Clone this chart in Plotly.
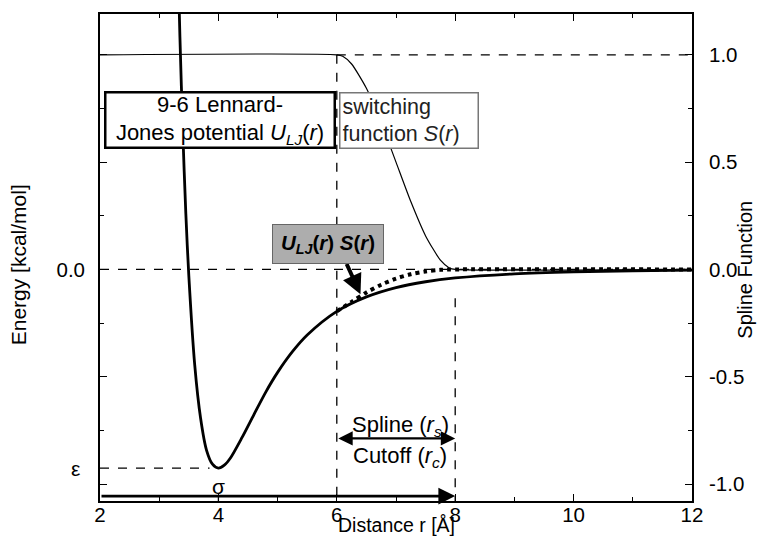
import plotly.graph_objects as go

# ---- data ----
# 9-6 Lennard-Jones potential (energy in units of epsilon, left axis)
r_lj = [3.32, 3.35, 3.40, 3.45, 3.50, 3.60, 3.70, 3.80, 3.90, 4.00, 4.10, 4.20, 4.40,
        4.60, 4.80, 5.00, 5.25, 5.50, 6.00, 6.50, 7.00, 7.50, 8.00, 9.00, 10.0, 11.0, 12.0]
u_lj = [1.52, 1.17, 0.68, 0.28, -0.03, -0.48, -0.75, -0.91, -0.98, -1.00, -0.985, -0.95, -0.845,
        -0.73, -0.617, -0.518, -0.414, -0.33, -0.211, -0.138, -0.091, -0.062, -0.043, -0.022, -0.012, -0.007, -0.004]
# switching function S(r) (right axis)
r_sw = [2.0, 6.0, 6.1, 6.25, 6.5, 6.75, 7.0, 7.25, 7.5, 7.75, 7.9, 8.0, 12.0]
s_sw = [1.0, 1.0, 0.993, 0.957, 0.844, 0.684, 0.5, 0.316, 0.156, 0.043, 0.007, 0.0, 0.0]
# product U_LJ(r) * S(r) (left axis)
r_us = [6.0, 6.25, 6.5, 6.75, 7.0, 7.25, 7.5, 7.75, 8.0, 12.0]
u_us = [-0.211, -0.163, -0.116, -0.077, -0.046, -0.024, -0.010, -0.002, 0.0, 0.0]

# characteristic distances / energies
SIGMA = 4.0
R_S = 6.0
R_C = 8.0
EPS = -1.0

x_ticks = [2, 4, 6, 8, 10, 12]
y2_ticks = [-1.0, -0.5, 0.0, 0.5, 1.0]
y2_ticktext = ["-1.0", "-0.5", "0.0", "0.5", "1.0"]
y_ticks = [0.0]
y_ticktext = ["0.0"]

FONT = "Liberation Sans, Arial, sans-serif"
BLACK = "black"
TICK_SIZE = 20.5
TITLE_SIZE = 20
TEXT_SIZE = 22

Y_TOP, Y_BOT = 1.285, -1.165     # energy axis range
Y2_TOP, Y2_BOT = 1.19, -1.079    # spline axis range

fig = go.Figure()

fig.add_trace(go.Scatter(x=r_sw, y=s_sw, yaxis="y2", mode="lines",
                         line=dict(color=BLACK, width=1.2, shape="spline", smoothing=0.6),
                         showlegend=False, hoverinfo="skip"))
fig.add_trace(go.Scatter(x=r_lj, y=u_lj, mode="lines",
                         line=dict(color=BLACK, width=2.8, shape="spline", smoothing=0.8),
                         showlegend=False, hoverinfo="skip"))
fig.add_trace(go.Scatter(x=r_us, y=u_us, mode="lines",
                         line=dict(color=BLACK, width=4, dash="dot", shape="spline", smoothing=0.8),
                         showlegend=False, hoverinfo="skip"))

dash = dict(color=BLACK, width=1.3, dash="dash")
Y_CUT = -1.14
Y_SPL = -0.85
shapes = [
    dict(type="line", xref="x", yref="y", x0=2, x1=12, y0=0, y1=0, line=dash),
    dict(type="line", xref="x", yref="y2", x0=R_S, x1=12, y0=1, y1=1, line=dash),
    dict(type="line", xref="x", yref="y2", x0=R_S, x1=R_S, y0=1, y1=Y2_BOT, line=dash),
    dict(type="line", xref="x", yref="y", x0=R_C, x1=R_C, y0=-0.145, y1=Y_BOT, line=dash),
    dict(type="line", xref="x", yref="y", x0=2, x1=SIGMA - 0.15, y0=EPS, y1=EPS, line=dash),
    dict(type="line", xref="x", yref="y", x0=SIGMA, x1=SIGMA, y0=Y_CUT, y1=Y_BOT, line=dash),
]

ann = [
    # cutoff arrow
    dict(x=R_C, y=Y_CUT, ax=2, ay=Y_CUT, xref="x", yref="y", axref="x", ayref="y",
         text="", showarrow=True, arrowhead=2, arrowsize=1.2, arrowwidth=2.8, arrowcolor=BLACK),
    # spline arrow (double headed)
    dict(x=R_C, y=Y_SPL, ax=R_S, ay=Y_SPL, xref="x", yref="y", axref="x", ayref="y",
         text="", showarrow=True, arrowhead=2, startarrowhead=2, arrowside="end+start",
         arrowsize=1.2, startarrowsize=1.2, arrowwidth=2.4, arrowcolor=BLACK),
    # arrow from product label to curve
    dict(x=6.40, y=-0.125, ax=6.155, ay=0.035, xref="x", yref="y", axref="x", ayref="y",
         text="", showarrow=True, arrowhead=2, arrowsize=1.0, arrowwidth=4, arrowcolor=BLACK),
    dict(x=7.07, y=-0.79, xref="x", yref="y", showarrow=False,
         text="Spline (<i>r</i><sub><i>s</i></sub>)", font=dict(size=TEXT_SIZE)),
    dict(x=7.07, y=-0.945, xref="x", yref="y", showarrow=False,
         text="Cutoff (<i>r</i><sub><i>c</i></sub>)", font=dict(size=TEXT_SIZE)),
    dict(x=SIGMA, y=-1.09, xref="x", yref="y", showarrow=False, text="σ", font=dict(size=21)),
    # epsilon label on the energy axis
    dict(x=0, y=EPS, xref="paper", yref="y", xshift=-31, showarrow=False, text="ε",
         font=dict(size=21)),
    dict(x=4.027, y=0.75, xref="x", yref="y", showarrow=False,
         text="9-6 Lennard-<br>Jones potential <i>U</i><sub><i>LJ</i></sub>(<i>r</i>)",
         font=dict(size=TEXT_SIZE), align="center", bgcolor="white", bordercolor=BLACK,
         borderwidth=2.5, borderpad=1, width=225, height=51),
    dict(x=7.22, y=0.75, xref="x", yref="y", showarrow=False,
         text="switching<br>function <i>S</i>(<i>r</i>)",
         font=dict(size=TEXT_SIZE - 0.5, color="#222"), align="left", bgcolor="white",
         bordercolor="#777", borderwidth=1.5, borderpad=2, width=133, height=50),
    dict(x=5.851, y=0.13, xref="x", yref="y", showarrow=False,
         text="<b><i>U</i><sub><i>LJ</i></sub>(<i>r</i>) <i>S</i>(<i>r</i>)</b>",
         font=dict(size=TEXT_SIZE - 1.5), align="center", bgcolor="#adadad", bordercolor="#666",
         borderwidth=1, borderpad=2, width=106, height=34),
    # axis titles
    dict(x=0.5, y=0, xref="paper", yref="paper", yshift=-36, yanchor="bottom", showarrow=False,
         text="Distance r [Å]", font=dict(size=TITLE_SIZE - 0.5), borderpad=0),
    dict(x=0, y=0.484, xref="paper", yref="paper", xshift=-82, xanchor="center", yanchor="middle",
         textangle=-90, showarrow=False, text="Energy [kcal/mol]", font=dict(size=TITLE_SIZE + 1)),
    dict(x=1, y=0.475, xref="paper", yref="paper", xshift=65, xanchor="right", yanchor="middle",
         textangle=-90, showarrow=False, text="Spline Function", font=dict(size=TITLE_SIZE),
         borderpad=0),
]

axis_common = dict(showline=True, linecolor=BLACK, linewidth=1.8, tickcolor=BLACK,
                   showgrid=False, zeroline=False,
                   tickfont=dict(size=TICK_SIZE, color=BLACK, family=FONT))

fig.update_layout(
    width=758, height=538,
    margin=dict(l=100, r=66, t=12, b=36),
    paper_bgcolor="white", plot_bgcolor="white",
    font=dict(family=FONT, color=BLACK),
    shapes=shapes, annotations=ann,
    xaxis=dict(range=[2, 12], tickvals=x_ticks, ticks="inside", ticklen=7, tickwidth=1.2,
               mirror="ticks", ticklabelstandoff=-6,
               minor=dict(dtick=1, ticks="inside", ticklen=4, tickcolor=BLACK),
               **axis_common),
    yaxis=dict(range=[Y_BOT, Y_TOP], tickvals=y_ticks, ticktext=y_ticktext, ticks="",
               ticklabelstandoff=9, **axis_common),
    yaxis2=dict(range=[Y2_BOT, Y2_TOP], overlaying="y", side="right", tickvals=y2_ticks,
                ticktext=y2_ticktext, ticks="inside", ticklen=7, tickwidth=1.2, mirror="ticks",
                ticklabelstandoff=11,
                minor=dict(dtick=0.25, tick0=0, ticks="inside", ticklen=4, tickcolor=BLACK),
                **axis_common),
)

fig.write_html("out.html", config={"displayModeBar": False},
               post_script="document.body.style.margin='0px';document.body.style.overflow='hidden';")
